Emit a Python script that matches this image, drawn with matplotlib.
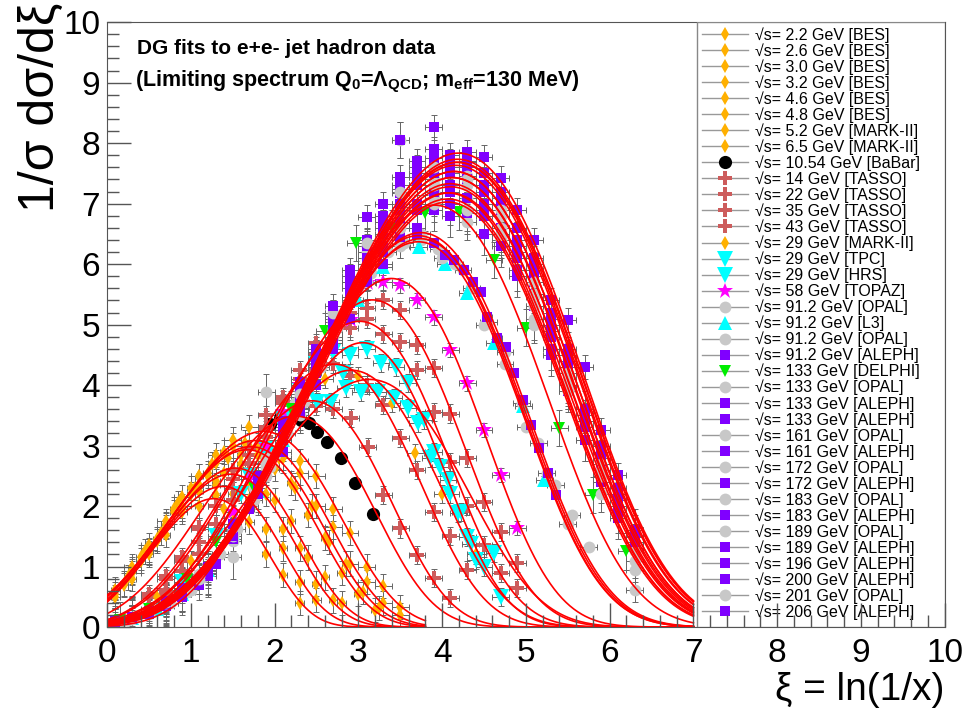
import numpy as np
import matplotlib.pyplot as plt
from matplotlib.lines import Line2D
from matplotlib.patches import Rectangle

plt.rcParams['font.family'] = ['Liberation Sans', 'DejaVu Sans']
plt.rcParams['mathtext.default'] = 'regular'

# --- datasets (legend order) ---
energies = ['2.2', '2.6', '3.0', '3.2', '4.6', '4.8', '5.2', '6.5', '10.54',
            '14', '22', '35', '43', '29', '29', '29', '58',
            '91.2', '91.2', '91.2', '91.2', '133', '133', '133', '133',
            '161', '161', '172', '172', '183', '183', '189', '189',
            '196', '200', '201', '206']
experiments = ['BES', 'BES', 'BES', 'BES', 'BES', 'BES', 'MARK-II', 'MARK-II', 'BaBar',
               'TASSO', 'TASSO', 'TASSO', 'TASSO', 'MARK-II', 'TPC', 'HRS', 'TOPAZ',
               'OPAL', 'L3', 'OPAL', 'ALEPH', 'DELPHI', 'OPAL', 'ALEPH', 'ALEPH',
               'OPAL', 'ALEPH', 'OPAL', 'ALEPH', 'OPAL', 'ALEPH', 'OPAL', 'ALEPH',
               'ALEPH', 'ALEPH', 'OPAL', 'ALEPH']

xi_aleph_lep2 = [0.1, 0.3, 0.5, 0.7, 0.9, 1.2, 1.5, 1.8, 2.1, 2.3, 2.5, 2.7, 2.9, 3.1, 3.3,
                 3.5, 3.7, 3.9, 4.1, 4.3, 4.5, 4.7, 4.9, 5.1, 5.3, 5.5, 5.7, 5.9, 6.1, 6.3]
xi_opal_lep2 = [0.3, 0.7, 1.1, 1.5, 1.9, 2.3, 2.7, 3.1, 3.5, 3.9, 4.3, 4.7, 5.1, 5.5, 5.9, 6.3]

xi_data = [
    [0.1, 0.3, 0.5, 0.7, 0.9, 1.1, 1.3, 1.5, 1.7, 1.9, 2.1, 2.3],
    [0.1, 0.3, 0.5, 0.7, 0.9, 1.1, 1.3, 1.5, 1.7, 1.9, 2.1, 2.3, 2.5],
    [0.1, 0.3, 0.5, 0.7, 0.9, 1.1, 1.3, 1.5, 1.7, 1.9, 2.1, 2.3, 2.5, 2.7],
    [0.2, 0.4, 0.6, 0.8, 1.0, 1.2, 1.4, 1.6, 1.8, 2.0, 2.2, 2.4, 2.6, 2.8],
    [0.2, 0.4, 0.6, 0.8, 1.0, 1.2, 1.4, 1.6, 1.8, 2.0, 2.2, 2.4, 2.6, 2.8, 3.0, 3.2],
    [0.25, 0.45, 0.65, 0.85, 1.05, 1.25, 1.45, 1.65, 1.85, 2.05, 2.25, 2.45, 2.65, 2.85, 3.05, 3.25],
    [0.3, 0.5, 0.7, 0.9, 1.1, 1.3, 1.5, 1.7, 1.9, 2.1, 2.3, 2.5, 2.7, 2.9, 3.1, 3.3, 3.5],
    [0.3, 0.5, 0.7, 0.9, 1.1, 1.3, 1.5, 1.7, 1.9, 2.1, 2.3, 2.5, 2.7, 2.9, 3.1, 3.3, 3.5],
    [1.95, 2.07, 2.2, 2.32, 2.41, 2.51, 2.63, 2.79, 2.96, 3.17],
    [0.5, 0.7, 0.9, 1.1, 1.3, 1.5, 1.7, 1.9, 2.1, 2.3, 2.5, 2.7, 2.91, 3.11, 3.3, 3.5, 3.7, 3.9, 4.1],
    [0.5, 0.7, 0.9, 1.1, 1.3, 1.5, 1.7, 1.9, 2.1, 2.3, 2.5, 2.7, 2.9, 3.1, 3.3, 3.5, 3.7, 3.9, 4.1, 4.3],
    [0.7, 0.9, 1.1, 1.3, 1.5, 1.7, 1.9, 2.1, 2.3, 2.5, 2.7, 2.9, 3.1, 3.3, 3.5, 3.7, 3.9, 4.1, 4.3, 4.5, 4.7, 4.9],
    [0.7, 0.9, 1.1, 1.3, 1.5, 1.7, 1.9, 2.1, 2.3, 2.5, 2.7, 2.9, 3.1, 3.3, 3.5, 3.7, 3.9, 4.1, 4.3, 4.5, 4.7, 4.9],
    [0.6, 1.0, 1.4, 1.8, 2.2, 2.6, 3.0, 3.4, 3.68, 4.0, 4.4],
    [0.9, 1.3, 1.6, 1.9, 2.1, 2.3, 2.5, 2.7, 2.82, 2.9, 3.1, 3.27, 3.45, 3.59, 3.78, 3.86, 3.98, 4.07, 4.19, 4.3, 4.4, 4.5],
    [1.7, 1.9, 2.1, 2.31, 2.51, 2.67, 2.85, 3.03, 3.23, 3.42, 3.59, 3.71, 3.9, 4.1, 4.22, 4.34, 4.62, 4.7],
    [1.5, 1.7, 1.9, 2.1, 2.3, 2.51, 2.7, 2.91, 3.11, 3.3, 3.5, 3.7, 3.9, 4.1, 4.3, 4.5, 4.7, 4.9],
    [0.15, 0.35, 0.55, 0.75, 0.95, 1.15, 1.35, 1.55, 1.75, 1.95, 2.15, 2.35, 2.55, 2.75, 2.95,
     3.15, 3.35, 3.55, 3.75, 3.95, 4.15, 4.35, 4.55, 4.75, 4.95, 5.15, 5.35, 5.55, 5.75],
    [0.3, 0.6, 0.9, 1.2, 1.5, 1.8, 2.1, 2.4, 2.7, 3.0, 3.3, 3.72, 4.04, 4.3, 4.62, 4.97, 5.22],
    [0.25, 0.5, 0.75, 1.0, 1.25, 1.5, 1.75, 2.0, 2.25, 2.5, 2.75, 3.0, 3.25, 3.5, 3.75, 4.0,
     4.25, 4.5, 4.75, 5.0, 5.25, 5.5],
    [0.1, 0.3, 0.5, 0.7, 0.9, 1.1, 1.3, 1.5, 1.7, 1.9, 2.1, 2.3, 2.5, 2.7, 2.9, 3.1, 3.3, 3.5, 3.7, 3.9,
     4.04, 4.14, 4.26, 4.37, 4.46, 4.54, 4.66, 4.76, 4.86, 4.96, 5.06, 5.16, 5.26, 5.36],
    [0.16, 0.5, 0.96, 1.3, 1.75, 2.2, 2.6, 2.97, 3.4, 3.8, 4.2, 4.62, 5.0, 5.4, 5.8, 6.2],
    xi_opal_lep2, xi_aleph_lep2, xi_aleph_lep2,
    xi_opal_lep2, xi_aleph_lep2,
    xi_opal_lep2, xi_aleph_lep2,
    xi_opal_lep2, xi_aleph_lep2,
    xi_opal_lep2, xi_aleph_lep2,
    xi_aleph_lep2, xi_aleph_lep2, xi_opal_lep2, xi_aleph_lep2,
]

y_data = [
    [0.62, 0.80, 1.25, 1.52, 1.95, 2.0, 2.18, 1.9, 1.74, 1.2, 0.86, 0.40],
    [0.5, 0.92, 1.2, 1.68, 1.9, 2.25, 2.35, 2.2, 2.1, 1.62, 1.3, 0.75, 0.45],
    [0.55, 0.95, 1.22, 1.7, 1.95, 2.35, 2.42, 2.6, 2.35, 2.2, 1.62, 1.3, 0.72, 0.44],
    [0.7, 1.1, 1.42, 1.9, 2.2, 2.5, 2.55, 2.7, 2.4, 2.1, 1.75, 1.15, 0.82, 0.4],
    [0.72, 1.15, 1.45, 1.95, 2.3, 2.55, 2.9, 2.85, 3.0, 2.62, 2.38, 1.85, 1.47, 0.9, 0.55, 0.28],
    [0.82, 1.25, 1.55, 2.05, 2.3, 2.7, 2.8, 3.05, 2.85, 2.8, 2.3, 2.0, 1.4, 1.05, 0.58, 0.32],
    [0.9, 1.35, 1.65, 2.15, 2.5, 2.72, 3.1, 3.0, 3.15, 2.8, 2.55, 2.0, 1.65, 1.05, 0.75, 0.4, 0.2],
    [1.0, 1.28, 1.75, 2.0, 2.5, 2.85, 3.0, 3.3, 3.1, 3.1, 2.75, 2.5, 1.95, 1.55, 1.0, 0.68, 0.33],
    [3.35, 3.45, 3.5, 3.42, 3.37, 3.23, 3.06, 2.79, 2.38, 1.87],
    [0.55, 0.8, 1.15, 1.62, 2.0, 2.45, 2.85, 3.25, 3.5, 3.7, 3.65, 3.6, 3.45, 2.98, 2.18, 1.63, 1.19, 0.81, 0.48],
    [0.5, 0.85, 1.1, 1.65, 2.0, 2.6, 2.95, 3.5, 3.75, 4.1, 4.25, 4.35, 4.15, 4.0, 3.67, 3.12, 2.6, 1.9, 1.5, 0.95],
    [0.62, 0.92, 1.4, 1.7, 2.3, 2.7, 3.3, 3.7, 4.25, 4.5, 4.9, 4.95, 5.1, 4.85, 4.71, 4.25, 3.55, 2.73,
     2.0, 1.35, 0.9, 0.64],
    [0.55, 0.82, 1.2, 1.7, 2.1, 2.72, 3.15, 3.8, 4.1, 4.7, 4.95, 5.2, 5.27, 5.4, 5.24, 4.66, 4.28, 3.53,
     2.8, 2.07, 1.57, 1.06],
    [0.5, 1.1, 1.95, 2.85, 3.6, 4.1, 4.15, 3.7, 2.87, 2.2, 1.2],
    [0.75, 1.5, 2.2, 2.85, 3.45, 3.9, 4.35, 4.55, 4.2, 4.5, 4.6, 4.36, 4.3, 4.03, 3.42, 2.79, 2.65, 2.43,
     1.88, 1.49, 1.11, 1.0],
    [2.5, 2.95, 3.3, 3.62, 3.72, 3.72, 3.95, 3.88, 3.88, 3.78, 3.62, 3.37, 2.9, 2.2, 1.9, 1.38, 1.22, 0.5],
    [1.9, 2.45, 3.0, 3.55, 4.0, 4.36, 4.88, 5.07, 5.69, 5.7, 5.65, 5.4, 5.12, 4.58, 4.03, 3.26, 2.51, 1.64],
    [0.08, 0.18, 0.28, 0.4, 0.58, 0.82, 1.2, 1.62, 2.1, 2.65, 3.2, 3.72, 4.3, 4.95, 5.4, 5.85, 6.2, 6.35,
     6.4, 6.25, 6.0, 5.6, 5.05, 4.55, 3.7, 3.05, 2.35, 1.85, 1.32],
    [0.15, 0.3, 0.55, 0.95, 1.55, 2.25, 3.1, 3.95, 4.75, 5.4, 5.95, 6.28, 6.0, 5.52, 4.7, 3.65, 2.43],
    [0.12, 0.22, 0.4, 0.62, 1.1, 1.55, 2.3, 2.85, 3.7, 4.35, 5.1, 5.6, 6.2, 6.3, 6.5, 6.1, 5.9, 5.0,
     4.35, 3.3, 2.55, 1.7],
    [0.1, 0.17, 0.25, 0.36, 0.5, 0.7, 1.05, 1.5, 1.95, 2.5, 3.1, 3.6, 4.2, 4.85, 5.35, 5.8, 6.25, 6.4,
     6.5, 6.35, 6.15, 6.07, 5.9, 5.7, 5.54, 5.12, 4.78, 4.63, 4.2, 3.75, 3.34, 2.96, 2.55, 2.18],
    [0.12, 0.3, 0.8, 1.4, 2.3, 3.6, 4.9, 6.35, 6.6, 6.85, 6.86, 6.07, 4.95, 3.29, 2.18, 1.25],
    [0.15, 0.36, 0.85, 1.42, 3.88, 3.5, 4.9, 5.7, 6.4, 7.1, 6.7, 6.4, 5.0, 3.9, 2.2, 1.3],
    [0.1, 0.15, 0.24, 0.35, 0.6, 0.85, 1.5, 2.3, 2.9, 3.7, 4.0, 4.8, 5.1, 5.9, 6.0, 6.7, 6.6, 7.2,
     6.8, 7.1, 6.5, 6.6, 5.8, 5.5, 4.5, 4.2, 3.1, 2.7, 1.8, 1.5],
    [0.09, 0.16, 0.21, 0.38, 0.55, 0.9, 1.45, 2.2, 3.1, 3.55, 4.25, 4.6, 5.4, 5.7, 6.3, 6.45, 7.0, 6.9,
     7.2, 6.85, 6.9, 6.3, 6.1, 5.3, 4.9, 3.9, 3.4, 2.4, 2.1, 1.3],
    [0.13, 0.4, 0.8, 1.15, 2.5, 3.75, 4.8, 6.1, 6.6, 7.2, 6.9, 6.5, 5.1, 4.0, 2.5, 1.1],
    [0.12, 0.14, 0.25, 0.36, 0.62, 0.88, 1.6, 2.25, 3.2, 3.6, 4.4, 4.7, 5.6, 6.1, 6.2, 7.17, 6.9, 7.5,
     7.0, 7.4, 6.8, 6.9, 5.9, 5.8, 4.6, 4.4, 3.1, 2.9, 1.9, 1.6],
    [0.15, 0.41, 0.84, 1.5, 2.65, 3.8, 4.95, 6.0, 8.05, 7.0, 7.1, 6.6, 5.3, 3.9, 2.6, 0.94],
    [0.1, 0.17, 0.22, 0.4, 0.57, 0.95, 1.5, 2.4, 3.1, 3.85, 4.3, 5.0, 5.45, 6.2, 6.5, 8.05, 7.3, 7.2,
     7.6, 7.1, 7.3, 6.5, 6.4, 5.5, 5.1, 4.0, 3.6, 2.5, 2.2, 1.4],
    [0.14, 0.39, 0.86, 1.6, 2.7, 3.75, 5.1, 6.2, 6.95, 7.4, 7.3, 6.5, 5.5, 4.1, 2.5, 1.25],
    [0.11, 0.16, 0.26, 0.37, 0.63, 0.9, 1.62, 2.3, 3.3, 3.75, 4.5, 4.95, 5.7, 6.0, 6.7, 6.9, 7.44, 7.6,
     7.3, 7.6, 7.0, 7.0, 6.2, 5.9, 4.8, 4.4, 3.3, 2.8, 2.0, 1.6],
    [0.16, 0.4, 0.88, 1.58, 2.75, 3.9, 5.05, 6.3, 7.0, 7.3, 7.45, 6.8, 5.45, 4.0, 2.7, 1.3],
    [0.1, 0.14, 0.25, 0.42, 0.58, 0.97, 1.55, 2.5, 3.2, 3.95, 4.4, 5.15, 5.6, 6.3, 6.6, 7.25, 7.3, 7.75,
     7.5, 7.69, 7.2, 7.1, 6.3, 6.0, 4.9, 4.3, 3.6, 2.6, 2.3, 1.4],
    [0.12, 0.17, 0.22, 0.38, 0.64, 0.92, 1.65, 2.4, 3.35, 3.8, 4.6, 5.0, 5.8, 6.1, 6.8, 7.0, 7.6, 7.5,
     7.8, 7.4, 7.5, 6.9, 6.6, 5.7, 5.2, 4.5, 3.4, 2.9, 2.0, 1.6],
    [0.1, 0.15, 0.26, 0.41, 0.6, 1.0, 1.58, 2.5, 3.25, 4.0, 4.45, 5.2, 5.7, 6.4, 6.7, 7.3, 7.5, 7.9,
     7.6, 7.7, 7.3, 7.2, 6.4, 6.1, 5.0, 4.6, 3.5, 3.0, 2.2, 1.5],
    [0.15, 0.42, 0.85, 1.65, 2.8, 3.85, 5.2, 6.35, 7.2, 7.6, 7.4, 6.9, 5.7, 4.2, 2.6, 0.61],
    [0.11, 0.16, 0.24, 0.43, 0.65, 0.95, 1.7, 2.45, 3.4, 4.05, 4.55, 5.3, 5.9, 6.78, 7.0, 7.44, 7.7, 8.26,
     7.64, 7.85, 7.77, 7.43, 6.89, 6.4, 5.4, 5.07, 4.3, 3.26, 2.51, 1.49],
]

y_errs = [0.2, 0.2, 0.2, 0.2, 0.2, 0.2, 0.2, 0.2, 0.05,
          0.15, 0.15, 0.15, 0.15, 0.15, 0.15, 0.15, 0.12,
          0.06, 0.06, 0.06, 0.05, 0.3, 0.3, 0.35, 0.35,
          0.35, 0.35, 0.3, 0.3, 0.2, 0.2, 0.15, 0.15,
          0.2, 0.2, 0.2, 0.2]
x_errs = [0.05, 0.05, 0.05, 0.05, 0.05, 0.05, 0.1, 0.1, 0.0,
          0.1, 0.1, 0.1, 0.1, 0.1, 0.1, 0.1, 0.1,
          0.1, 0.1, 0.1, 0.05, 0.1, 0.1, 0.1, 0.1,
          0.1, 0.1, 0.1, 0.1, 0.1, 0.1, 0.1, 0.1,
          0.1, 0.1, 0.1, 0.1]

# DG fit parameters: height at mean, mean, width, upper end of drawn range
fit_height = [2.1, 2.3, 2.5, 2.6, 2.9, 2.95, 3.05, 3.2, 3.45,
              3.7, 4.3, 5.0, 5.35, 4.2, 4.65, 4.05, 5.7,
              6.35, 6.3, 6.4, 6.45, 6.9, 6.95, 7.0, 7.1,
              7.1, 7.25, 7.2, 7.35, 7.35, 7.45, 7.45, 7.55,
              7.6, 7.65, 7.6, 7.75]
fit_mean = [1.17, 1.27, 1.36, 1.41, 1.54, 1.58, 1.63, 1.72, 2.1,
            2.3, 2.55, 2.85, 3.0, 2.75, 2.9, 2.95, 3.22,
            3.55, 3.52, 3.52, 3.55, 3.7, 3.85, 3.85, 3.85,
            3.87, 3.88, 3.88, 3.9, 3.9, 3.92, 3.92, 3.94,
            3.95, 3.96, 3.96, 3.97]
fit_width = [0.6, 0.64, 0.68, 0.7, 0.76, 0.78, 0.8, 0.84, 0.85,
             0.85, 0.92, 0.95, 0.98, 0.95, 0.87, 1.05, 1.0,
             1.12, 1.12, 1.12, 1.13, 1.2, 1.24, 1.25, 1.25,
             1.26, 1.26, 1.27, 1.27, 1.28, 1.28, 1.28, 1.29,
             1.29, 1.3, 1.3, 1.3]
fit_xmax = [3.8, 3.8, 3.8, 3.8, 3.8, 3.8, 3.8, 3.8, 7.0,
            7.0, 7.0, 7.0, 7.0, 7.0, 7.0, 7.0, 7.0,
            7.0, 7.0, 7.0, 7.0, 7.0, 7.0, 7.0, 7.0,
            7.0, 7.0, 7.0, 7.0, 7.0, 7.0, 7.0, 7.0,
            7.0, 7.0, 7.0, 7.0]
dg_skew = -0.25
dg_kurt = -0.6

# marker style per experiment: marker, colour, size
styles = {
    'BES': ('d', '#ffb000', 7.5),
    'MARK-II': ('d', '#ffb000', 7.5),
    'BaBar': ('o', 'black', 9.5),
    'TASSO': ('P', '#cd5c5c', 10),
    'TPC': ('v', '#00ffff', 11),
    'HRS': ('v', '#00ffff', 11),
    'TOPAZ': ('*', '#ff00ff', 12),
    'OPAL': ('o', '#c8c8c8', 8.5),
    'L3': ('^', '#00ffff', 10),
    'DELPHI': ('v', '#00ee00', 9),
    'ALEPH': ('s', '#8000ff', 7.5),
}


def dg(xi, h, mean, width):
    d = (xi - mean) / width
    return h * np.exp(-dg_skew * d / 2 - (2 + dg_kurt) * d**2 / 4
                      + dg_skew * d**3 / 6 + dg_kurt * d**4 / 24)


fig = plt.figure(figsize=(9.64, 7.15), dpi=100)
ax = fig.add_axes([0.111, 0.123, 0.869, 0.846])

handles = []
for i in range(len(energies)):
    mk, col, ms = styles[experiments[i]]
    ax.errorbar(xi_data[i], y_data[i], xerr=x_errs[i], yerr=y_errs[i], fmt='none',
                ecolor='#666666', elinewidth=0.7, capsize=2, capthick=0.7, zorder=1.8)
    ax.plot(xi_data[i], y_data[i], linestyle='none', marker=mk, color=col,
            markersize=ms, markeredgewidth=0, zorder=2)
    handles.append(Line2D([], [], color='#999999', lw=1, marker=mk, markersize=ms,
                          markerfacecolor=col, markeredgewidth=0,
                          label='√s= %s GeV [%s]' % (energies[i], experiments[i])))

for i in range(len(energies)):
    xs = np.linspace(0, fit_xmax[i], 300)
    ax.plot(xs, dg(xs, fit_height[i], fit_mean[i], fit_width[i]),
            color='red', lw=1.2, zorder=3)

ax.set_xlim(0, 10)
ax.set_ylim(0, 10)
ax.set_xticks(np.arange(0, 11, 1))
ax.set_yticks(np.arange(0, 11, 1))
ax.set_xticks(np.arange(0, 10.01, 0.2), minor=True)
ax.set_yticks(np.arange(0, 10.01, 0.2), minor=True)
ax.tick_params(which='both', direction='in', top=False, right=False, color='#555555', width=1)
ax.tick_params(which='major', length=17, labelsize=24)
ax.tick_params(which='minor', length=8.5)
ax.tick_params(axis='x', pad=8)
ax.tick_params(axis='y', pad=5)
for sp in ax.spines.values():
    sp.set_color('#555555')
ax.xaxis.set_zorder(4)
ax.yaxis.set_zorder(4)

# legend box
x0 = 0.704
ax.add_patch(Rectangle((x0, 0), 1 - x0, 1, transform=ax.transAxes, facecolor='white',
                       edgecolor='#888888', lw=1, zorder=3.5))
leg = ax.legend(handles=handles, loc='upper left', bbox_to_anchor=(x0, 1.0), frameon=False,
                fontsize=11.5, labelspacing=0.024, handlelength=2.9, handletextpad=0.45,
                borderpad=0.3, borderaxespad=0)
leg.set_zorder(3.6)

ax.text(0.036, 0.957, 'DG fits to e+e- jet hadron data', transform=ax.transAxes,
        fontsize=15, fontweight='bold', va='center', ha='left', zorder=5)
ax.text(0.034, 0.901, r'(Limiting spectrum Q$_0$=$\Lambda_{QCD}$; m$_{eff}$=130 MeV)',
        transform=ax.transAxes, fontsize=15.5, fontweight='bold', va='center', ha='left', zorder=5)

fig.text(0.042, 0.996, '1/σ dσ/dξ', rotation=90, fontsize=36, ha='center', va='top')
fig.text(0.98, 0.035, 'ξ = ln(1/x)', fontsize=28, ha='right', va='center')

fig.savefig('out.png', dpi=100)
